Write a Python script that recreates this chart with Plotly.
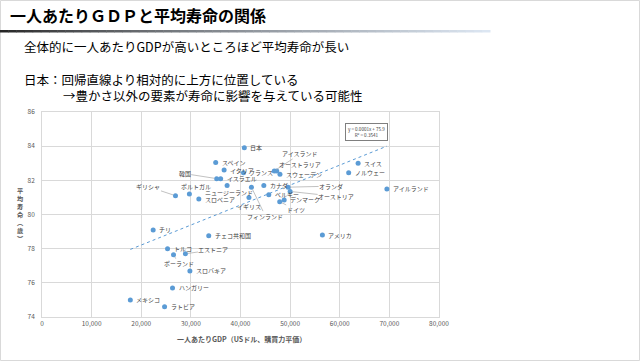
import numpy as np
import plotly.graph_objects as go

# ---- data ----
countries = ["日本", "スペイン", "イタリア", "韓国", "イスラエル", "フランス", "アイスランド",
             "オーストラリア", "スウェーデン", "スイス", "ノルウェー", "ギリシャ", "ポルトガル",
             "ニュージーランド", "カナダ", "オランダ", "オーストリア", "フィンランド", "ベルギー",
             "アイルランド", "スロベニア", "イギリス", "デンマーク", "ドイツ", "チリ", "チェコ共和国",
             "アメリカ", "トルコ", "エストニア", "ポーランド", "スロバキア", "ハンガリー", "メキシコ", "ラトビア"]
gdp_per_capita = [40770, 35000, 36700, 35200, 36000, 40600, 46800,
                  47300, 47950, 63700, 61800, 26900, 29700,
                  37300, 44700, 49600, 50000, 42200, 45700,
                  69500, 31600, 41700, 48800, 47900, 22400, 33600,
                  56500, 25300, 28900, 26500, 29800, 26300, 17800, 24700]
life_expectancy = [83.9, 83.05, 82.6, 82.1, 82.1, 82.45, 82.55,
                   82.55, 82.35, 83.0, 82.45, 81.1, 81.2,
                   81.7, 81.7, 81.6, 81.35, 81.6, 81.15,
                   81.5, 80.9, 81.0, 80.85, 80.75, 79.1, 78.75,
                   78.8, 78.0, 77.7, 77.65, 76.7, 75.7, 75.0, 74.6]
x_ticks = [0, 10000, 20000, 30000, 40000, 50000, 60000, 70000, 80000]
y_ticks = [74, 76, 78, 80, 82, 84, 86]
equation_text = ["y = 0.0001x + 75.9", "R² = 0.3541"]

title_text = "一人あたりＧＤＰと平均寿命の関係"
body_lines = ["全体的に一人あたりGDPが高いところほど平均寿命が長い",
              "日本：回帰直線より相対的に上方に位置している",
              "→豊かさ以外の要素が寿命に影響を与えている可能性"]
x_title = "一人あたりGDP（USドル、購買力平価）"
y_title_chars = ["平", "均", "寿", "命", "︵", "歳", "︶"]

# ---- label placement (pixel offsets, positive = right/down; style only) ----
leader_labels = {
    "韓国": (-32, -5), "ギリシャ": (-27, -9), "アイスランド": (26, -17),
    "オランダ": (43, -1), "オーストリア": (46, 5), "ドイツ": (16, 8),
    "フィンランド": (14, 29), "エストニア": (28, -4), "ポーランド": (5, 9),
}
centred_labels = {
    "イギリス": (0, 9), "ニュージーランド": (2, 7), "ポルトガル": (7, -8),
    "オーストラリア": (23, -6),
}

BLUE = "#5b9bd5"
FONT = "Noto Sans CJK JP"
W, H = 640, 361
ML, MR, MT, MB = 42, 201, 112, 44
PW, PH = W - ML - MR, H - MT - MB


def px(x):  # figure pixel -> paper x
    return (x - ML) / PW


def py(y):  # figure pixel (from top) -> paper y
    return (H - MB - y) / PH


fig = go.Figure()

xs = np.array(gdp_per_capita, dtype=float)
ys = np.array(life_expectancy, dtype=float)
slope, intercept = np.polyfit(xs, ys, 1)
x_line = np.array([xs.min(), xs.max()])
fig.add_trace(go.Scatter(x=x_line, y=slope * x_line + intercept, mode="lines",
                         line=dict(color=BLUE, width=1, dash="dot"), hoverinfo="skip",
                         showlegend=False))
fig.add_trace(go.Scatter(x=gdp_per_capita, y=life_expectancy, mode="markers",
                         marker=dict(color=BLUE, size=5), text=countries,
                         showlegend=False))

annotations = []
lab_font = dict(family=FONT, size=6, color="#404040")
for c, gx, ly in zip(countries, gdp_per_capita, life_expectancy):
    if c in leader_labels:
        ax, ay = leader_labels[c]
        annotations.append(dict(x=gx, y=ly, xref="x", yref="y", text=c, showarrow=True,
                                ax=ax, ay=ay, arrowhead=0, arrowwidth=0.7,
                                arrowcolor="#a6a6a6", standoff=2.5, font=lab_font,
                                borderpad=0))
    elif c in centred_labels:
        dx, dy = centred_labels[c]
        annotations.append(dict(x=gx, y=ly, xref="x", yref="y", text=c, showarrow=False,
                                xanchor="center", yanchor="middle",
                                xshift=dx, yshift=-dy, font=lab_font, borderpad=0))
    else:
        annotations.append(dict(x=gx, y=ly, xref="x", yref="y", text=c, showarrow=False,
                                xanchor="left", yanchor="middle", xshift=5, font=lab_font,
                                borderpad=0))

annotations.append(dict(x=65300, y=84.85, xref="x", yref="y",
                        text="<br>".join(equation_text), showarrow=False,
                        xanchor="center", yanchor="middle",
                        font=dict(family=FONT, size=4.6, color="#404040"),
                        bordercolor="#7f7f7f", borderwidth=1, borderpad=2, bgcolor="white"))

annotations.append(dict(x=px(8), y=py(15), xref="paper", yref="paper",
                        text=f"<b>{title_text}</b>", showarrow=False, xanchor="left",
                        yanchor="middle", font=dict(family=FONT, size=16, color="#000000")))
body_pos = [(22, 47), (22, 79), (61, 96)]
for t, (bx, by) in zip(body_lines, body_pos):
    annotations.append(dict(x=px(bx), y=py(by), xref="paper", yref="paper", text=t,
                            showarrow=False, xanchor="left", yanchor="middle",
                            font=dict(family=FONT, size=12.5, color="#000000")))

annotations.append(dict(x=px(241), y=py(339), xref="paper", yref="paper",
                        text=f"<b>{x_title}</b>", showarrow=False,
                        xanchor="center", yanchor="middle",
                        font=dict(family=FONT, size=7, color="#595959")))
annotations.append(dict(x=px(20), y=py(214), xref="paper", yref="paper",
                        text="<b>" + "<br>".join(y_title_chars) + "</b>", showarrow=False,
                        xanchor="center", yanchor="middle",
                        font=dict(family=FONT, size=6.2, color="#595959")))

shapes = []
shapes.append(dict(type="rect", xref="paper", yref="paper", x0=px(0.5), x1=px(W - 0.5),
                   y0=py(H - 0.5), y1=py(0.5), line=dict(color="#d9d9d9", width=1),
                   layer="below"))
n = 60
c0 = np.array([0x26, 0x26, 0x26]); c1 = np.array([0xdc, 0xe6, 0xf2])
for i in range(n):
    t = i / (n - 1)
    col = (c0 + (c1 - c0) * t ** 0.8).astype(int)
    shapes.append(dict(type="rect", xref="paper", yref="paper",
                       x0=px(i * 490 / n), x1=px((i + 1) * 490 / n + 0.5),
                       y0=py(32.5), y1=py(30), line=dict(width=0),
                       fillcolor=f"rgb({col[0]},{col[1]},{col[2]})"))

fig.update_layout(
    width=W, height=H, autosize=False,
    margin=dict(l=ML, r=MR, t=MT, b=MB, pad=0),
    paper_bgcolor="white", plot_bgcolor="white",
    font=dict(family=FONT),
    xaxis=dict(range=[0, 80000], tickvals=x_ticks, tickformat=",d", showgrid=True,
               gridcolor="#d9d9d9", gridwidth=0.8, zeroline=False, showline=True,
               linecolor="#d9d9d9", linewidth=0.8, mirror=True,
               tickfont=dict(family=FONT, size=6.5, color="#595959")),
    yaxis=dict(range=[74, 86], tickvals=y_ticks, showgrid=True, gridcolor="#d9d9d9",
               gridwidth=0.8, zeroline=False, showline=True, linecolor="#d9d9d9",
               linewidth=0.8, mirror=True, ticklabelstandoff=5,
               tickfont=dict(family=FONT, size=6.5, color="#595959")),
    annotations=annotations, shapes=shapes,
)

fig.write_html("out.html", config={"displayModeBar": False},
               post_script="document.body.style.margin='0';document.body.style.overflow='hidden';")
